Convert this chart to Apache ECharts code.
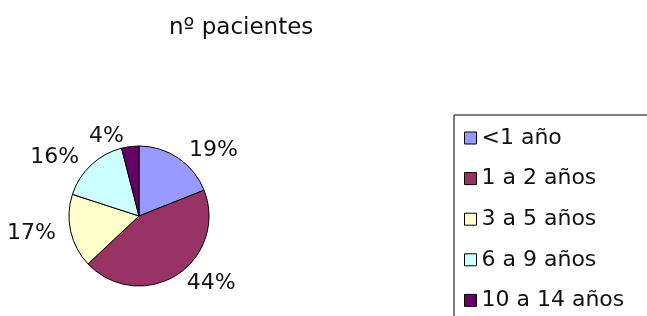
<!DOCTYPE html>
<html>
<head>
<meta charset="utf-8">
<script src="https://cdn.jsdelivr.net/npm/echarts@6/dist/echarts.min.js"></script>
<style>
	html, body { margin:0; padding:0; background:#fff; }
	#chart { width:647px; height:316px; }
</style>
</head>
<body>
<div id="chart"></div>
<script>
	// grupos de edad y porcentaje de pacientes
	var categories = ['<1 año', '1 a 2 años', '3 a 5 años', '6 a 9 años', '10 a 14 años']
	var values = [19, 44, 17, 16, 4]
	var colors = ['#9999FF', '#993366', '#FFFFCC', '#CCFFFF', '#660066']
	var title = 'nº pacientes'

	var chartInstance = echarts.init(document.getElementById('chart'))
	var font = 'DejaVu Sans'

	var pieData = categories.map(function(name, i){
		return { name: name, value: values[i], itemStyle: { color: colors[i] } }
	})

	var option = {
		animation: false,
		textStyle: { fontFamily: font },
		title: {
			text: title,
			left: 169,
			top: 17,
			padding: 0,
			textStyle: { fontSize: 23, fontWeight: 'normal', color: '#111', fontFamily: font }
		},
		legend: {
			orient: 'vertical',
			left: 454,
			top: 115,
			height: 400,
			padding: [12, 40, 40, 10],
			borderColor: '#000',
			borderWidth: 1,
			icon: 'rect',
			itemWidth: 12,
			itemHeight: 12,
			itemGap: 18.6,
			itemStyle: { borderColor: '#000', borderWidth: 1 },
			textStyle: { fontSize: 22, color: '#111', fontFamily: font },
			data: categories
		},
		series: [
			{
				type: 'pie',
				center: [139, 216],
				radius: 70,
				startAngle: 90,
				clockwise: true,
				avoidLabelOverlap: false,
				itemStyle: { borderColor: '#000', borderWidth: 1 },
				label: {
					show: true,
					position: 'outside',
					formatter: '{c}%',
					fontSize: 22,
					color: '#111',
					fontFamily: font
				},
				labelLine: { show: false, length: 10, length2: 0 },
				emphasis: { disabled: true },
				data: pieData
			}
		]
	}
	chartInstance.setOption(option)
</script>
</body>
</html>
